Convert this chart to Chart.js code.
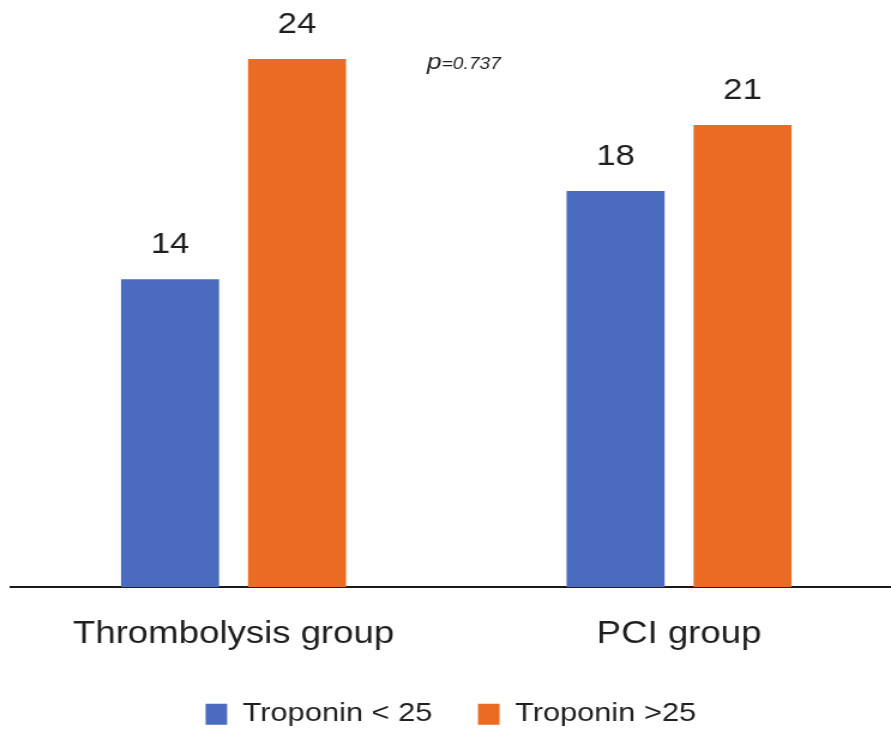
<!DOCTYPE html>
<html>
<head>
<meta charset="utf-8">
<script src="https://cdn.jsdelivr.net/npm/chart.js@4/dist/chart.umd.min.js"></script>
<style>
  html, body { margin: 0; padding: 0; background: #ffffff; overflow: hidden; }
  #wrap { width: 891px; height: 730px; overflow: hidden; position: relative; }
  /* the chart is drawn narrow and widened horizontally, giving broad lettering */
  #chart { position: absolute; left: 0; top: 0; transform: scaleX(1.1992); transform-origin: 0 0; }
</style>
</head>
<body>
<div id="wrap"><canvas id="chart" width="752" height="730"></canvas></div>
<script>
// Categories, series and values
const groups = ['Thrombolysis group', 'PCI group'];
const seriesNames = ['Troponin < 25', 'Troponin >25'];
const lowTroponin = [14, 18];
const highTroponin = [24, 21];
const pValueParts = ['p', '=0.737'];
const seriesColors = ['#4A6BBE', '#EB6B22'];

const FAMILY = '"Liberation Sans", Arial, Helvetica, sans-serif';
const TEXT = '#1f1f1f';

// Value printed above each bar
const barValues = {
  id: 'barValues',
  afterDatasetsDraw(chart) {
    const ctx = chart.ctx;
    chart.data.datasets.forEach((ds, i) => {
      chart.getDatasetMeta(i).data.forEach((bar, j) => {
        ctx.save();
        ctx.font = '29px ' + FAMILY;
        ctx.fillStyle = TEXT;
        ctx.textAlign = 'center';
        ctx.textBaseline = 'alphabetic';
        ctx.fillText(String(ds.data[j]), bar.x, bar.y - 26);
        ctx.restore();
      });
    });
  }
};

// p-value note between the two groups
const pNote = {
  id: 'pNote',
  afterDraw(chart) {
    const ctx = chart.ctx;
    const xs = chart.scales.x;
    const x = (xs.getPixelForValue(0) + xs.getPixelForValue(1)) / 2 - 24.5;
    const y = chart.chartArea.top + 10;
    ctx.save();
    ctx.fillStyle = TEXT;
    ctx.textAlign = 'left';
    ctx.textBaseline = 'alphabetic';
    ctx.font = 'italic 22px ' + FAMILY;
    ctx.fillText(pValueParts[0], x, y);
    const w = ctx.measureText(pValueParts[0]).width;
    ctx.font = 'italic 16px ' + FAMILY;
    ctx.fillText(pValueParts[1], x + w, y);
    ctx.restore();
  }
};

new Chart(document.getElementById('chart'), {
  type: 'bar',
  data: {
    labels: groups,
    datasets: [
      { label: seriesNames[0], data: lowTroponin, backgroundColor: seriesColors[0], borderColor: seriesColors[0], borderWidth: 0 },
      { label: seriesNames[1], data: highTroponin, backgroundColor: seriesColors[1], borderColor: seriesColors[1], borderWidth: 0 }
    ]
  },
  options: {
    responsive: false,
    animation: false,
    devicePixelRatio: 1,
    categoryPercentage: 0.570,
    barPercentage: 0.772,
    layout: { padding: { left: 0, right: 0, top: 59, bottom: -7 } },
    plugins: {
      legend: {
        position: 'bottom',
        labels: {
          boxWidth: 18,
          boxHeight: 21,
          padding: 38,
          color: TEXT,
          font: { size: 25.7, family: FAMILY }
        }
      },
      tooltip: { enabled: false }
    },
    scales: {
      x: {
        grid: { display: false, drawTicks: false },
        border: { display: true, color: '#1a1a1a', width: 2 },
        ticks: { padding: 29, color: TEXT, font: { size: 30.5, family: FAMILY } },
        afterFit(scale) { scale.height = 76; }
      },
      y: {
        min: 0,
        max: 24,
        grid: { display: false },
        border: { display: false },
        ticks: { display: false },
        afterFit(scale) { scale.width = 9; }
      }
    }
  },
  plugins: [barValues, pNote]
});
</script>
</body>
</html>
